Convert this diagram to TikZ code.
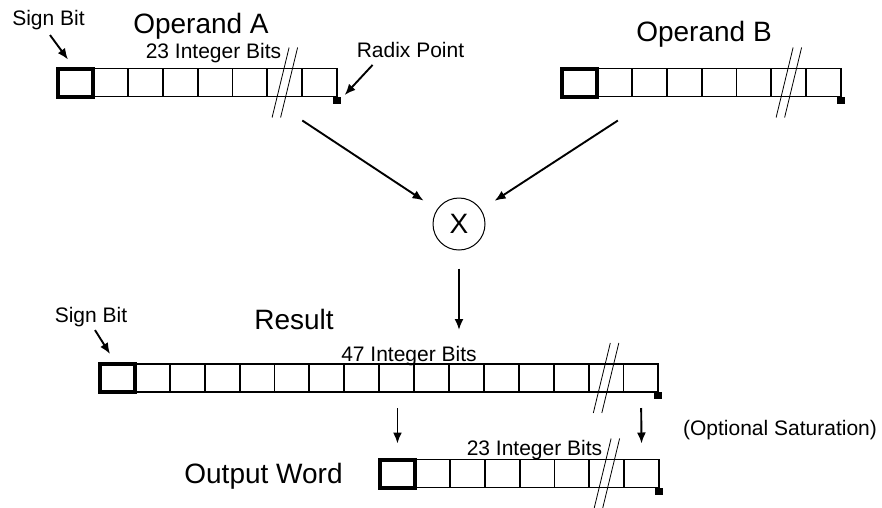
\documentclass[tikz,border=0pt]{standalone}
\usepackage{fontspec}
\setmainfont{Liberation Sans}
\usetikzlibrary{arrows.meta}
\tikzset{>={Latex[length=11pt,width=9pt]}}
\tikzset{
    cell/.style={draw, minimum width=34.9pt, minimum height=28pt, inner sep=0pt, outer sep=0pt, line width=1.9pt},
    signcell/.style={cell, line width=4pt},
    radix/.style={fill, minimum width=8pt, minimum height=7pt, inner sep=0pt, outer sep=0pt, anchor=north},
    brk/.style={line width=0.8pt},
    lbl/.style={font=\fontsize{21}{24}\selectfont, inner sep=2pt, anchor=base},
    title/.style={font=\fontsize{28}{32}\selectfont, inner sep=2pt, anchor=base},
    mult/.style={draw, circle, minimum size=52pt, inner sep=0pt, line width=1pt, font=\fontsize{28}{32}\selectfont},
    arr/.style={->, line width=1.9pt}
}

\begin{document}
\begin{tikzpicture}[x=1pt, y=-1pt]
    \useasboundingbox (0,0) rectangle (882,507);

    % operand registers
    \node[signcell] (a0) at (75.45,82.5) {};
    \node[signcell] (b0) at (579.45,82.5) {};
    \foreach \i in {1,...,7}
    {
        \node[cell] (a\i) at (75.45+34.9*\i,82.5) {};
        \node[cell] (b\i) at (579.45+34.9*\i,82.5) {};
    }

    % result register
    \node[signcell] (r0) at (117.45,378) {};
    \foreach \i in {1,...,15}
        \node[cell] (r\i) at (117.45+34.9*\i,378) {};

    % output word
    \node[signcell] (o0) at (397.45,473.5) {};
    \foreach \i in {1,...,7}
        \node[cell] (o\i) at (397.45+34.9*\i,473.5) {};

    % break marks and radix points
    \foreach \c in {a6,b6,r14,o6}
    {
        \draw[brk] ([shift={(4.25,-35)}]\c.center) -- ([shift={(-12.75,35)}]\c.center);
        \draw[brk] ([shift={(12.75,-35)}]\c.center) -- ([shift={(-4.25,35)}]\c.center);
    }
    \foreach \c in {a7,b7,r15,o7}
        \node[radix] (p\c) at (\c.south east) {};

    \node[mult] (x) at (459,224) {X};

    % labels
    \node[lbl] (signA) at (48.5,25) {Sign Bit};
    \node[title] (opA) at (201,33) {Operand A};
    \node[lbl] (bitsA) at (213.5,58) {23 Integer Bits};
    \node[lbl] (radix) at (410.5,57) {Radix Point};
    \node[title] (opB) at (704,41) {Operand B};
    \node[lbl] (signR) at (91,322) {Sign Bit};
    \node[title] (res) at (294,329) {Result};
    \node[lbl] (bitsR) at (409,361) {47 Integer Bits};
    \node[lbl] (sat) at (780,435) {(Optional Saturation)};
    \node[title] (out) at (263.5,483) {Output Word};
    \node[lbl] (bitsO) at (534.5,455) {23 Integer Bits};

    % arrows
    \draw[arr] ([shift={(1.5,3.5)}]signA.south) -- ([shift={(10,-9)}]a0.north west);
    \draw[arr] ([shift={(18,5.5)}]radix.south west) -- ([shift={(7.5,-5)}]pa7.center);
    \draw[arr, shorten >=16pt] ([shift={(0,24)}]a7.south west) -- (x);
    \draw[arr, shorten >=16pt] ([shift={(21,24)}]b1.south west) -- (x);

    \coordinate (rtop) at (459,330);
    \draw[arr, shorten <=18pt] (x) -- (rtop);

    \draw[arr] ([shift={(4,1.5)}]signR.south) -- ([shift={(10,-10)}]r0.north west);
    \draw[arr, shorten <=16pt, shorten >=16pt] (o0.north |- r8.south) -- (o0.north);
    \draw[arr, shorten <=16pt, shorten >=16pt] (r15.south) -- (o7.north);

\end{tikzpicture}
\end{document}
